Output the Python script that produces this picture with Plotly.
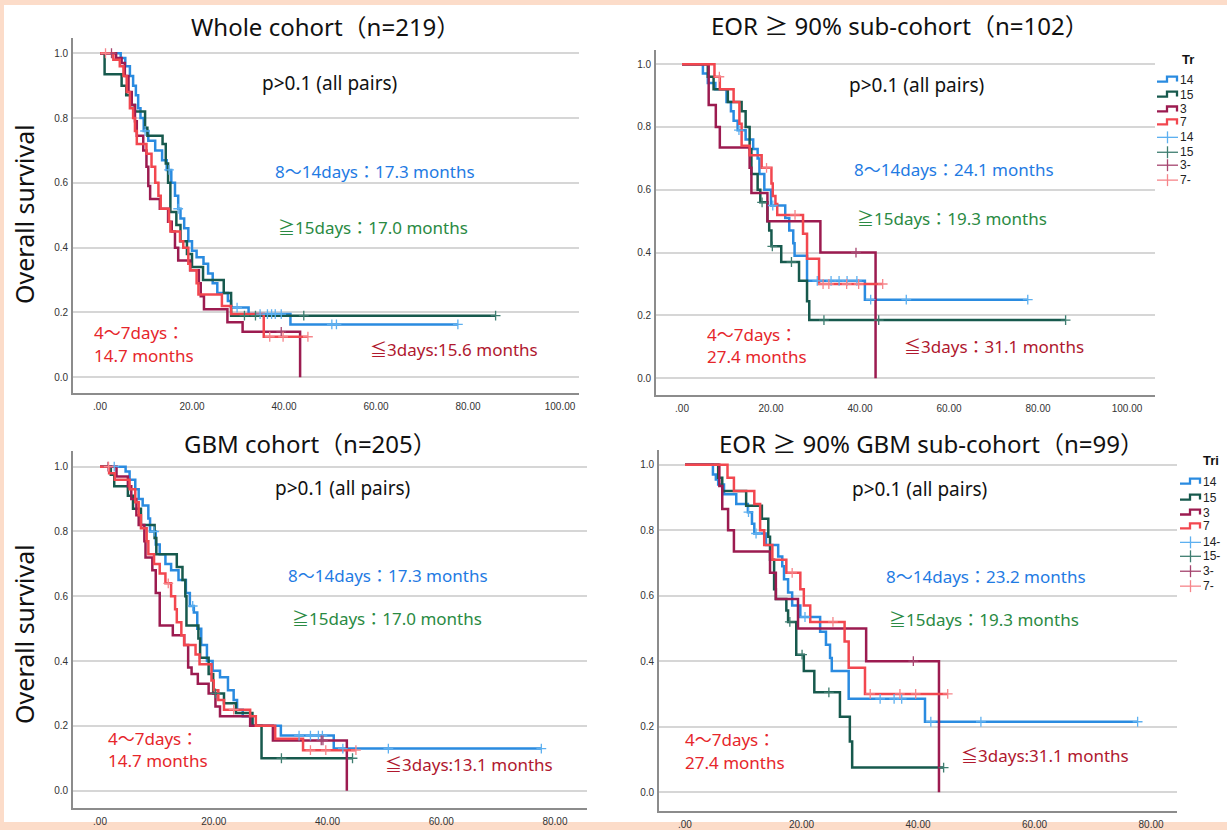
import plotly.graph_objects as go

W, H = 1227, 830


def px(x):
    return x / W


def py(y):
    return 1 - y / H


# ---------------- tick labels ----------------
x_tick_vals_100 = [0, 20, 40, 60, 80, 100]
x_tick_text_100 = [".00", "20.00", "40.00", "60.00", "80.00", "100.00"]
x_tick_vals_80 = [0, 20, 40, 60, 80]
x_tick_text_80 = [".00", "20.00", "40.00", "60.00", "80.00"]
y_tick_vals = [0, 0.2, 0.4, 0.6, 0.8, 1.0]
y_tick_text = ["0.0", "0.2", "0.4", "0.6", "0.8", "1.0"]
group_keys = ["14", "15", "3", "7"]

# ---------------- Panel 1: Whole cohort (n=219) ----------------
whole_d14_t = [4.5, 5.5, 6.5, 7.2, 7.8, 8.3, 8.8, 9.5, 10.5, 12.0, 13.5, 14.5, 15.5, 16.3, 17.0, 17.5, 18.3, 19.2, 20.0, 21.0, 22.5, 23.5, 24.5, 25.5, 27.8, 28.5, 32.3, 41.4]
whole_d14_s = [0.985, 0.96, 0.93, 0.90, 0.87, 0.83, 0.80, 0.76, 0.73, 0.70, 0.67, 0.64, 0.60, 0.56, 0.52, 0.49, 0.46, 0.42, 0.39, 0.37, 0.35, 0.32, 0.29, 0.26, 0.235, 0.215, 0.195, 0.163]
whole_d14_c = [9.8, 15.0, 17.0, 29.8, 34.8, 36.4, 37.3, 38.1, 39.4, 50.4, 51.4, 77.8]

whole_d15_t = [1.0, 4.7, 5.7, 6.8, 7.6, 9.8, 10.3, 13.6, 14.3, 14.8, 15.3, 16.6, 17.5, 18.9, 20.0, 22.4, 26.9, 28.5]
whole_d15_s = [0.935, 0.90, 0.87, 0.84, 0.82, 0.77, 0.745, 0.72, 0.66, 0.60, 0.51, 0.47, 0.42, 0.38, 0.34, 0.30, 0.26, 0.19]
whole_d15_c = [31.4, 33.8, 44.3, 86.0]

whole_d3_t = [3.5, 4.7, 5.4, 6.2, 6.9, 7.6, 8.0, 9.4, 10.1, 10.5, 10.9, 13.0, 14.8, 15.6, 16.3, 17.0, 19.6, 21.5, 21.9, 22.6, 27.7, 31.0, 43.5]
whole_d3_s = [0.985, 0.97, 0.93, 0.88, 0.84, 0.79, 0.745, 0.70, 0.65, 0.59, 0.55, 0.52, 0.48, 0.45, 0.40, 0.36, 0.33, 0.29, 0.25, 0.21, 0.17, 0.14, 0.0]
whole_d3_c = [2.5, 39.4]

whole_d7_t = [2.9, 4.3, 5.1, 5.8, 6.5, 7.2, 7.6, 8.0, 10.1, 11.2, 12.0, 12.7, 13.2, 15.0, 15.3, 17.4, 18.1, 19.2, 19.6, 21.0, 21.4, 26.5, 28.5, 35.6]
whole_d7_s = [0.98, 0.96, 0.93, 0.88, 0.83, 0.80, 0.76, 0.72, 0.69, 0.65, 0.60, 0.56, 0.52, 0.48, 0.45, 0.42, 0.40, 0.35, 0.33, 0.29, 0.255, 0.22, 0.195, 0.125]
whole_d7_c = [1.2, 36.9, 39.8, 45.2]

# ---------------- Panel 2: EOR >= 90% sub-cohort (n=102) ----------------
eor_d14_t = [4.7, 5.8, 7.5, 10.0, 11.0, 11.6, 12.5, 14.3, 16.0, 17.0, 17.4, 18.5, 20.0, 23.2, 24.1, 25.0, 25.3, 28.1, 41.1]
eor_d14_s = [0.97, 0.94, 0.92, 0.88, 0.85, 0.82, 0.79, 0.76, 0.73, 0.70, 0.65, 0.60, 0.55, 0.51, 0.47, 0.43, 0.39, 0.31, 0.25]
eor_d14_c = [12.8, 20.4, 30.4, 33.5, 35.3, 37.1, 39.3, 42.4, 50.4, 77.7]

eor_d15_t = [5.8, 7.1, 10.3, 13.4, 14.3, 15.2, 15.6, 17.0, 17.6, 19.2, 19.6, 20.1, 22.3, 26.3, 28.1, 28.6]
eor_d15_s = [0.96, 0.92, 0.88, 0.85, 0.80, 0.73, 0.65, 0.60, 0.56, 0.50, 0.47, 0.42, 0.37, 0.31, 0.245, 0.185]
eor_d15_c = [18.0, 20.3, 24.6, 31.9, 44.2, 86.2]

eor_d3_t = [6.0, 7.6, 8.5, 15.2, 15.6, 19.2, 31.1, 43.5]
eor_d3_s = [0.87, 0.80, 0.735, 0.67, 0.59, 0.50, 0.40, 0.0]
eor_d3_c = [39.1]

eor_d7_t = [7.3, 8.5, 11.6, 12.9, 13.4, 15.2, 17.9, 20.1, 20.4, 21.0, 21.4, 27.2, 28.1, 30.8]
eor_d7_s = [0.96, 0.92, 0.88, 0.81, 0.74, 0.71, 0.67, 0.62, 0.58, 0.555, 0.52, 0.46, 0.38, 0.30]
eor_d7_c = [8.4, 19.0, 25.4, 31.7, 33.0, 37.0, 39.7, 45.1]

# ---------------- Panel 3: GBM cohort (n=205) ----------------
gbm_d14_t = [4.5, 5.2, 6.2, 6.8, 7.5, 8.5, 8.8, 9.8, 10.5, 11.5, 12.5, 13.8, 15.1, 15.8, 16.5, 17.1, 17.8, 18.8, 19.8, 21.1, 22.5, 23.5, 24.1, 25.1, 26.8, 31.8, 41.1]
gbm_d14_s = [0.985, 0.96, 0.93, 0.90, 0.88, 0.84, 0.80, 0.76, 0.73, 0.70, 0.68, 0.65, 0.61, 0.57, 0.55, 0.50, 0.45, 0.40, 0.37, 0.35, 0.31, 0.28, 0.25, 0.23, 0.20, 0.17, 0.13]
gbm_d14_c = [2.5, 9.5, 16.3, 35.0, 37.0, 38.4, 39.1, 42.7, 50.7, 77.6]

gbm_d15_t = [1.9, 2.5, 4.9, 5.8, 7.2, 9.6, 9.9, 13.5, 14.5, 15.0, 15.2, 17.3, 17.6, 19.1, 19.9, 21.8, 23.9, 26.8, 28.4]
gbm_d15_s = [0.975, 0.94, 0.91, 0.87, 0.82, 0.78, 0.73, 0.69, 0.65, 0.60, 0.51, 0.47, 0.41, 0.36, 0.30, 0.27, 0.24, 0.20, 0.10]
gbm_d15_c = [20.3, 31.9, 44.4]

gbm_d3_t = [2.9, 4.9, 5.5, 6.4, 6.8, 7.8, 8.0, 9.2, 9.8, 10.5, 12.8, 14.8, 15.5, 16.1, 17.2, 19.1, 20.3, 21.1, 26.4, 30.4, 43.4]
gbm_d3_s = [0.97, 0.94, 0.90, 0.85, 0.82, 0.77, 0.72, 0.68, 0.61, 0.51, 0.48, 0.45, 0.38, 0.36, 0.33, 0.30, 0.26, 0.23, 0.20, 0.155, 0.0]
gbm_d3_c = [1.4, 38.9, 39.2]

gbm_d7_t = [1.6, 2.6, 5.2, 6.2, 6.8, 7.2, 8.2, 8.5, 9.5, 10.5, 11.5, 12.5, 13.2, 13.5, 14.3, 14.8, 16.8, 17.5, 19.6, 20.0, 20.8, 21.8, 26.4, 27.4, 30.8, 35.7]
gbm_d7_s = [0.98, 0.96, 0.93, 0.89, 0.85, 0.81, 0.77, 0.73, 0.70, 0.67, 0.64, 0.60, 0.56, 0.52, 0.48, 0.45, 0.42, 0.39, 0.34, 0.31, 0.28, 0.25, 0.23, 0.20, 0.16, 0.125]
gbm_d7_c = [1.5, 12.0, 23.5, 37.0, 39.7, 45.0]

# ---------------- Panel 4: EOR >= 90% GBM sub-cohort (n=99) ----------------
gbmeor_d14_t = [4.8, 5.3, 5.7, 6.7, 8.8, 10.8, 11.5, 11.9, 13.9, 16.0, 16.7, 17.0, 17.7, 18.4, 19.8, 23.2, 24.2, 24.9, 25.2, 28.1, 41.2]
gbmeor_d14_s = [0.97, 0.955, 0.94, 0.91, 0.88, 0.855, 0.82, 0.79, 0.755, 0.72, 0.69, 0.65, 0.61, 0.57, 0.535, 0.49, 0.45, 0.41, 0.37, 0.285, 0.215]
gbmeor_d14_c = [10.9, 12.2, 20.6, 33.5, 35.9, 37.2, 42.2, 50.8, 77.7]

gbmeor_d15_t = [5.7, 6.4, 10.5, 13.2, 14.3, 14.6, 15.3, 15.6, 17.4, 17.7, 19.1, 20.4, 22.2, 26.6, 28.3, 28.7]
gbmeor_d15_s = [0.96, 0.92, 0.875, 0.835, 0.78, 0.71, 0.62, 0.59, 0.555, 0.52, 0.42, 0.37, 0.305, 0.23, 0.155, 0.075]
gbmeor_d15_c = [18.0, 20.1, 24.7, 44.4]

gbmeor_d3_t = [5.9, 6.4, 7.4, 8.4, 14.6, 15.6, 19.4, 31.1, 43.6]
gbmeor_d3_s = [0.935, 0.865, 0.80, 0.735, 0.67, 0.59, 0.50, 0.40, 0.0]
gbmeor_d3_c = [39.2]

gbmeor_d7_t = [7.3, 8.4, 11.9, 12.9, 13.6, 15.0, 17.4, 19.8, 20.4, 21.5, 27.4, 28.1, 30.9]
gbmeor_d7_s = [0.96, 0.92, 0.88, 0.80, 0.755, 0.71, 0.67, 0.62, 0.57, 0.52, 0.46, 0.38, 0.30]
gbmeor_d7_c = [18.4, 25.4, 31.8, 36.9, 39.6, 45.1]

# ---------------- styles ----------------
line_colors = {"14": "#2A8BE0", "15": "#17594D", "3": "#9C1B50", "7": "#F2474F"}
cens_colors = {"14": "#5DB0F0", "15": "#3E7D70", "3": "#A5456F", "7": "#F6858A"}
txt_blue, txt_green, txt_red, txt_dred = "#1F7BE3", "#2A8A43", "#E6262B", "#B0182E"
FONT = "Noto Sans, Noto Sans CJK JP, sans-serif"
TICKFONT = dict(family="Liberation Sans, Arial, sans-serif", size=10, color="#333333")

panels = [
    dict(sfx="", dx=(73, 579), dy=(38, 395), xr=(-5.87, 104.13), yr=(-0.049, 1.0476),
         xtv=x_tick_vals_100, xtt=x_tick_text_100,
         data={"14": (whole_d14_t, whole_d14_s, whole_d14_c), "15": (whole_d15_t, whole_d15_s, whole_d15_c),
               "3": (whole_d3_t, whole_d3_s, whole_d3_c), "7": (whole_d7_t, whole_d7_s, whole_d7_c)}),
    dict(sfx="2", dx=(656, 1155), dy=(50, 397), xr=(-5.84, 106.29), yr=(-0.0539, 1.046),
         xtv=x_tick_vals_100, xtt=x_tick_text_100,
         data={"14": (eor_d14_t, eor_d14_s, eor_d14_c), "15": (eor_d15_t, eor_d15_s, eor_d15_c),
               "3": (eor_d3_t, eor_d3_s, eor_d3_c), "7": (eor_d7_t, eor_d7_s, eor_d7_c)}),
    dict(sfx="3", dx=(73, 587), dy=(453, 812), xr=(-4.75, 85.63), yr=(-0.0538, 1.049),
         xtv=x_tick_vals_80, xtt=x_tick_text_80,
         data={"14": (gbm_d14_t, gbm_d14_s, gbm_d14_c), "15": (gbm_d15_t, gbm_d15_s, gbm_d15_c),
               "3": (gbm_d3_t, gbm_d3_s, gbm_d3_c), "7": (gbm_d7_t, gbm_d7_s, gbm_d7_c)}),
    dict(sfx="4", dx=(659, 1177), dy=(452, 815), xr=(-4.46, 84.46), yr=(-0.0578, 1.0456),
         xtv=x_tick_vals_80, xtt=x_tick_text_80,
         data={"14": (gbmeor_d14_t, gbmeor_d14_s, gbmeor_d14_c), "15": (gbmeor_d15_t, gbmeor_d15_s, gbmeor_d15_c),
               "3": (gbmeor_d3_t, gbmeor_d3_s, gbmeor_d3_c), "7": (gbmeor_d7_t, gbmeor_d7_s, gbmeor_d7_c)}),
]


def surv_at(t_list, s_list, c):
    val = 1.0
    for t, s in zip(t_list, s_list):
        if t <= c:
            val = s
    return val


fig = go.Figure()
layout = dict(width=W, height=H, margin=dict(l=0, r=0, t=0, b=0), autosize=False,
              paper_bgcolor="#FCDCC9", plot_bgcolor="rgba(0,0,0,0)", showlegend=False)

for p in panels:
    xa, ya = "x" + p["sfx"], "y" + p["sfx"]
    for g in group_keys:
        t, s, c = p["data"][g]
        end = max(c + t)
        xs = [0] + t + [end]
        ys = [1.0] + s + [s[-1]]
        fig.add_trace(go.Scatter(x=xs, y=ys, mode="lines", line=dict(color=line_colors[g], width=2.5, shape="hv"),
                                 xaxis=xa, yaxis=ya, hoverinfo="skip"))
    for g in group_keys:
        t, s, c = p["data"][g]
        cy = [surv_at(t, s, ci) for ci in c]
        fig.add_trace(go.Scatter(x=c, y=cy, mode="markers",
                                 marker=dict(symbol="cross-thin", size=7, line=dict(color=cens_colors[g], width=1.3)),
                                 xaxis=xa, yaxis=ya, hoverinfo="skip"))
    layout["xaxis" + p["sfx"]] = dict(domain=[px(p["dx"][0]), px(p["dx"][1])], range=list(p["xr"]), anchor=ya,
                                      showgrid=False, zeroline=False, showline=True, linecolor="#8c8c8c", linewidth=1.6,
                                      tickvals=p["xtv"], ticktext=p["xtt"], tickfont=TICKFONT, ticks="outside",
                                      ticklen=3, tickcolor="rgba(0,0,0,0)", fixedrange=True)
    layout["yaxis" + p["sfx"]] = dict(domain=[py(p["dy"][1]), py(p["dy"][0])], range=list(p["yr"]), anchor=xa,
                                      showgrid=True, gridcolor="#d6d6d6", gridwidth=1.5, zeroline=False,
                                      showline=True, linecolor="#8c8c8c", linewidth=1.6,
                                      tickvals=y_tick_vals, ticktext=y_tick_text, tickfont=TICKFONT, ticks="outside",
                                      ticklen=1, tickcolor="rgba(0,0,0,0)", fixedrange=True)

annotations = []


def txt(x, y, text, size, color, xanchor="center", angle=0):
    annotations.append(dict(x=px(x), y=py(y), xref="paper", yref="paper", text=text, showarrow=False,
                            xanchor=xanchor, yanchor="middle", textangle=angle,
                            font=dict(family=FONT, size=size, color=color)))


# titles
txt(325, 27, "Whole cohort（n=219）", 24, "#111111")
txt(900, 26, "EOR ≥ 90% sub-cohort（n=102）", 24, "#111111")
txt(310, 446, "GBM cohort（n=205）", 24, "#111111")
txt(931, 446, "EOR ≥ 90% GBM sub-cohort（n=99）", 24, "#111111")
# y titles
txt(24, 215, "Overall survival", 25, "#111111", angle=-90)
txt(24, 637, "Overall survival", 25, "#111111", angle=-90)

PS = 19   # p-value text size
AS = 17   # median texts size
# Panel 1 texts
txt(329, 83, "p&gt;0.1 (all pairs)", PS, "#111111")
txt(375, 172, "8～14days：17.3 months", AS, txt_blue)
txt(373, 229, "≧15days：17.0 months", AS, txt_green)
txt(92, 334, "4～7days：", AS, txt_red, xanchor="left")
txt(92, 357, "14.7 months", AS, txt_red, xanchor="left")
txt(454, 351, "≦3days:15.6 months", AS, txt_dred)
# Panel 2 texts
txt(916, 85, "p&gt;0.1 (all pairs)", PS, "#111111")
txt(954, 170, "8～14days：24.1 months", AS, txt_blue)
txt(952, 220, "≧15days：19.3 months", AS, txt_green)
txt(705, 336, "4～7days：", AS, txt_red, xanchor="left")
txt(705, 358, "27.4 months", AS, txt_red, xanchor="left")
txt(994, 348, "≦3days：31.1 months", AS, txt_dred)
# Panel 3 texts
txt(342, 490, "p&gt;0.1 (all pairs)", PS, "#111111")
txt(388, 578, "8～14days：17.3 months", AS, txt_blue)
txt(387, 621, "≧15days：17.0 months", AS, txt_green)
txt(106, 742, "4～7days：", AS, txt_red, xanchor="left")
txt(106, 764, "14.7 months", AS, txt_red, xanchor="left")
txt(469, 768, "≦3days:13.1 months", AS, txt_dred)
# Panel 4 texts
txt(919, 491, "p&gt;0.1 (all pairs)", PS, "#111111")
txt(986, 579, "8～14days：23.2 months", AS, txt_blue)
txt(984, 622, "≧15days：19.3 months", AS, txt_green)
txt(683, 743, "4～7days：", AS, txt_red, xanchor="left")
txt(683, 766, "27.4 months", AS, txt_red, xanchor="left")
txt(1045, 759, "≦3days:31.1 months", AS, txt_dred)

shapes = [dict(type="rect", xref="paper", yref="paper", x0=px(4), x1=px(1227), y0=py(826), y1=py(5),
               fillcolor="white", line=dict(width=0), layer="below")]

# legends (partially clipped in the original)
legend_specs = [
    dict(head=(1180, 60, "Tr"), x0=1157, ys=[80, 95, 110, 123, 138, 153, 166, 181],
         labels=["14", "15", "3", "7", "14", "15", "3-", "7-"]),
    dict(head=(1201, 463, "Tri"), x0=1180, ys=[484, 500, 515, 529, 545, 559, 574, 589],
         labels=["14", "15", "3", "7", "14-", "15-", "3-", "7-"]),
]
for L in legend_specs:
    hx, hy, ht = L["head"]
    annotations.append(dict(x=px(hx), y=py(hy), xref="paper", yref="paper", text="<b>" + ht + "</b>",
                            showarrow=False, xanchor="left", yanchor="middle",
                            font=dict(family="Liberation Sans, Arial", size=13, color="#111111")))
    x0 = L["x0"]
    for i, (yy, lab) in enumerate(zip(L["ys"], L["labels"])):
        g = group_keys[i % 4]
        if i < 4:
            path = "M {} {} L {} {} L {} {} L {} {} L {} {}".format(
                px(x0), py(yy + 2), px(x0 + 10), py(yy + 2), px(x0 + 10), py(yy - 3),
                px(x0 + 20), py(yy - 3), px(x0 + 20), py(yy + 2))
            shapes.append(dict(type="path", xref="paper", yref="paper", path=path,
                               line=dict(color=line_colors[g], width=2.3)))
        else:
            shapes.append(dict(type="line", xref="paper", yref="paper", x0=px(x0), x1=px(x0 + 21),
                               y0=py(yy), y1=py(yy), line=dict(color=cens_colors[g], width=1.3)))
            shapes.append(dict(type="line", xref="paper", yref="paper", x0=px(x0 + 10.5), x1=px(x0 + 10.5),
                               y0=py(yy - 6), y1=py(yy + 6), line=dict(color=cens_colors[g], width=1.3)))
        annotations.append(dict(x=px(x0 + 21), y=py(yy), xref="paper", yref="paper", text=lab,
                                showarrow=False, xanchor="left", yanchor="middle",
                                font=dict(family="Liberation Sans, Arial", size=12, color="#222222")))

layout["annotations"] = annotations
layout["shapes"] = shapes
fig.update_layout(**layout)
fig.write_html("out.html", config={"displayModeBar": False},
               post_script="document.body.style.margin='0px';document.body.style.overflow='hidden';")
